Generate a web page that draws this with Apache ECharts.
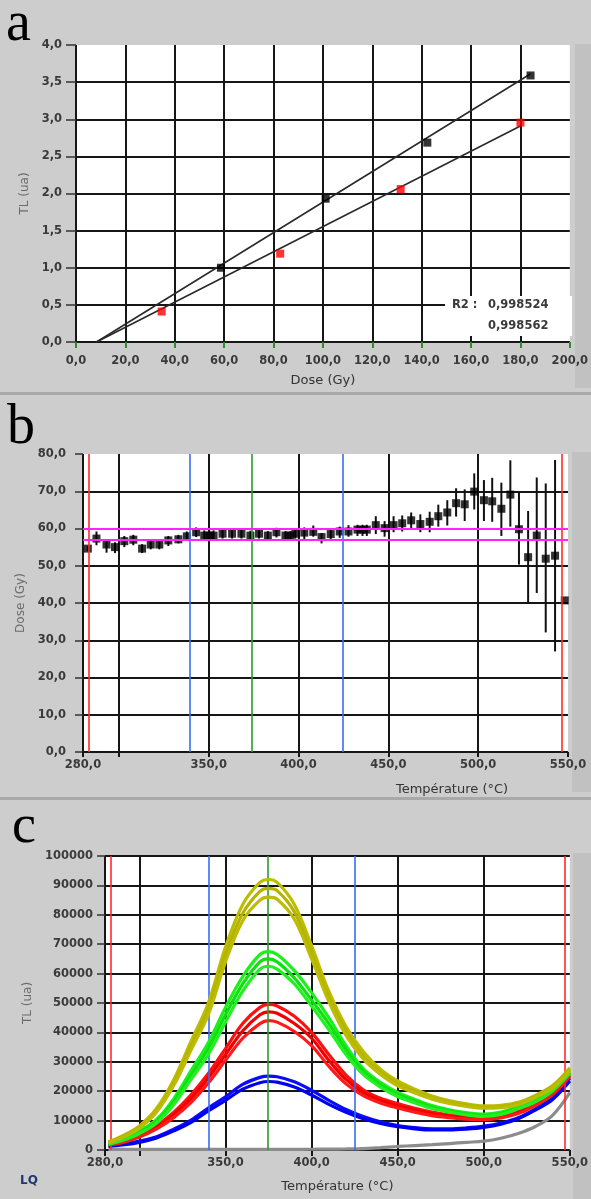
<!DOCTYPE html>
<html><head><meta charset="utf-8">
<script src="https://cdn.jsdelivr.net/npm/echarts@6/dist/echarts.min.js"></script>
<style>html,body{margin:0;padding:0;background:#cdcdcd}#chart{width:591px;height:1199px}</style>
</head><body><div id="chart"></div>
<script>
// ---------- Panel a : TL vs dose ----------
const aBlackDose = [58.7, 101.1, 142.3, 184.1];
const aBlackTL   = [1.00, 1.93, 2.685, 3.59];
const aRedDose   = [34.7, 82.7, 131.5, 180.0];
const aRedTL     = [0.41, 1.19, 2.06, 2.955];
const aFitBlackX = [8.3, 184.0];
const aFitBlackY = [0, 3.61];
const aFitRedX   = [8.3, 180.0];
const aFitRedY   = [0, 2.91];
const aR2        = ['0,998524', '0,998562'];

// ---------- Panel b : equivalent dose vs temperature ----------
const bTemp = [282.7,287.5,293.1,297.8,303.0,308.0,312.9,317.7,322.5,327.5,
               333.1,337.8,343.0,347.5,350.3,352.7,357.7,363.0,368.2,373.2,
               378.0,382.9,387.7,392.7,395.5,398.2,403.2,408.2,412.8,417.9,
               422.9,427.8,432.8,435.6,438.0,443.0,447.9,452.9,457.7,462.7,
               467.8,473.0,477.8,482.8,487.7,492.5,497.8,503.2,507.8,512.9,
               517.9,522.7,527.8,532.6,537.6,542.8,548.2];
const bDose = [54.6,57.3,55.7,55.0,56.6,57.0,54.6,55.7,55.7,56.8,
               57.1,57.9,59.0,58.1,58.1,58.1,58.6,58.6,58.6,58.1,
               58.6,58.1,59.0,58.1,58.1,58.6,58.9,59.1,57.7,58.5,
               59.2,59.2,59.7,59.7,59.7,60.9,60.1,60.9,61.4,62.2,
               61.2,61.8,63.3,64.3,66.8,66.5,69.9,67.6,67.3,65.3,
               69.1,59.8,52.3,58.1,51.9,52.7,40.7];
const bLow  = [54.0,55.5,53.5,53.4,55.0,55.5,53.4,54.4,54.4,55.3,
               56.0,56.8,57.7,56.8,56.8,56.8,57.3,57.3,57.3,56.8,
               57.3,56.9,57.6,56.9,56.9,57.3,57.1,57.8,56.0,57.2,
               57.5,57.8,58.0,58.0,58.0,58.5,57.8,59.0,59.2,60.0,
               59.0,59.0,60.5,60.8,63.2,62.0,65.1,62.0,61.8,58.0,
               60.5,50.3,39.8,42.7,32.1,27.0,40.7];
const bHigh = [55.3,59.2,57.0,56.3,58.0,58.3,55.8,57.0,57.0,58.0,
               58.3,59.2,60.3,59.5,59.5,59.5,59.8,59.8,59.8,59.4,
               59.8,59.3,60.2,59.3,59.3,59.8,60.3,60.8,58.8,59.8,
               60.5,60.9,61.0,61.0,61.0,63.3,62.0,63.3,63.5,64.3,
               63.8,64.5,66.4,67.6,70.8,70.5,74.8,73.0,73.6,72.3,
               78.3,69.9,64.7,73.7,72.1,78.4,40.7];
const bPlateau = [56.9, 60.0];
const bVLines  = [283.4, 339.5, 373.8, 424.5, 546.4];

// ---------- Panel c : glow curves ----------
const cTemp = [282,290,300,310,320,330,340,350,360,370,375,380,390,400,410,420,430,440,450,460,470,480,490,500,510,520,530,540,550];
const cOlive1 = [2800,4800,8200,14200,24000,37000,50000,69000,83500,91000,92000,91000,83500,69500,54000,42000,33500,27500,23500,20700,18400,16800,15700,15000,15200,16200,18600,21900,28000];
const cOlive2 = [2600,4500,7800,13500,23000,35500,48000,66500,80500,88000,89000,88200,81000,67000,52000,40500,32000,26500,22500,20000,17800,16300,15200,14600,14800,15800,18300,21500,27500];
const cOlive3 = [2400,4200,7400,12900,22000,34000,46000,64000,78000,85000,86000,85300,78500,65000,50500,39000,31000,25700,21800,19400,17300,15800,14800,14200,14400,15400,17900,21100,27000];
const cGreen1 = [2300,3800,6400,10400,17500,27000,36500,48500,59000,66500,67500,66500,61000,53500,45000,35500,27700,23000,19600,17200,15100,13700,12700,12200,12900,14800,17200,20900,27000];
const cGreen2 = [2100,3500,6000,9800,16500,25500,34500,46000,56500,64000,65000,64000,58500,51000,43000,34000,26700,22200,18900,16600,14600,13300,12300,11800,12500,14400,16800,20500,26500];
const cGreen3 = [1900,3200,5600,9200,15500,24000,32500,43500,54000,61500,62500,61500,56500,49000,41000,32500,25700,21400,18200,16000,14100,12900,11900,11400,12100,14000,16400,20100,26000];
const cRed1   = [2100,3100,5200,8400,12900,18800,26000,34500,43000,48500,49500,49000,45500,40000,32500,25500,20500,17600,15800,14200,12900,12000,11500,11200,11700,13200,15900,19700,26000];
const cRed2   = [1900,2800,4800,7800,12000,17500,24500,32500,40500,46000,47000,46500,43000,38000,30500,24000,19500,16800,15000,13500,12300,11500,11000,10800,11300,12800,15500,19300,25500];
const cRed3   = [1700,2500,4400,7200,11100,16200,22800,30500,38000,43000,44000,43500,40300,35500,28500,22500,18500,16000,14300,12900,11700,11000,10500,10300,10900,12400,15100,18900,25000];
const cBlue1  = [1400,1900,3000,4500,7100,10200,14300,18100,22300,24700,25100,24900,23200,20300,16900,13800,11400,9600,8300,7600,7200,7200,7500,8100,9200,11000,14000,17800,24500];
const cBlue2  = [1200,1700,2600,4100,6500,9400,13300,16900,20700,22900,23300,23100,21400,18700,15500,12800,10600,9000,7900,7200,6800,6800,7100,7700,8800,10600,13600,17200,23500];
const cGrey   = [200,200,200,200,200,200,200,200,200,200,200,200,200,250,300,350,450,800,1200,1500,1800,2200,2600,3000,4000,5600,8000,11800,19500];
const cVLines = [283.5, 340.0, 374.5, 425.0, 547.2];

// ---------- axis ticks ----------
const tTicks  = [280, 300, 350, 400, 450, 500, 550];
const tLabels = [280, 350, 400, 450, 500, 550];

// ---------- styling ----------
const vLineColors = ['#ff2a2a', '#3a6cf4', '#2e9a2e', '#3a6cf4', '#ff2a2a'];
const INK = '#161616';
const fmt1 = v => Number(v).toFixed(1).replace('.', ',');
const fmt0 = v => String(Math.round(v));
const tickFont = {fontFamily: 'DejaVu Sans', fontWeight: 'bold', fontSize: 11.5, color: '#3a3a3a'};
const gridLine = {show: true, lineStyle: {color: INK, width: 2}};
const zip = (xs, ys) => xs.map((x, i) => [x, ys[i]]);

const chart = echarts.init(document.getElementById('chart'), null, {renderer: 'canvas'});

function vMarks(list) {
  return list.map((t, i) => ({xAxis: t, lineStyle: {color: vLineColors[i], width: 1.6, type: 'solid'}}));
}

function curve(vals, color, z) {
  return {type: 'line', xAxisIndex: 2, yAxisIndex: 2, data: zip(cTemp, vals), smooth: 0.35,
          symbol: 'none', lineStyle: {color: color, width: 3.2}, z: z, silent: true};
}

const option = {
  backgroundColor: '#cdcdcd',
  animation: false,
  grid: [
    {left: 76, right: 19, top: 45, height: 297, show: true, backgroundColor: '#ffffff', borderWidth: 0},
    {left: 83, right: 23, top: 454, height: 298, show: true, backgroundColor: '#ffffff', borderWidth: 0},
    {left: 105, right: 21, top: 856, height: 294, show: true, backgroundColor: '#ffffff', borderWidth: 0}
  ],
  xAxis: [
    {gridIndex: 0, type: 'value', min: 0, max: 200, interval: 20,
     axisLine: {show: false},
     axisTick: {show: true, length: 6, lineStyle: {color: '#2e8b2e', width: 2}},
     axisLabel: Object.assign({margin: 13, formatter: fmt1}, tickFont),
     splitLine: Object.assign({showMaxLine: false}, gridLine),
     name: 'Dose (Gy)', nameLocation: 'middle', nameGap: 32,
     nameTextStyle: {fontFamily: 'DejaVu Sans', fontSize: 13, color: '#333'}},
    {gridIndex: 1, type: 'value', min: 280, max: 550,
     axisLine: {show: false},
     axisTick: {show: true, length: 5, customValues: tTicks, lineStyle: {color: INK, width: 2}},
     axisLabel: Object.assign({margin: 7, formatter: fmt1, customValues: tLabels}, tickFont),
     splitLine: Object.assign({showMaxLine: false}, gridLine)},
    {gridIndex: 2, type: 'value', min: 280, max: 550,
     axisLine: {show: false},
     axisTick: {show: true, length: 6, customValues: tTicks, lineStyle: {color: INK, width: 2}},
     axisLabel: Object.assign({margin: 7, formatter: fmt1, customValues: tLabels}, tickFont),
     splitLine: Object.assign({showMaxLine: false}, gridLine),
     name: 'Température (°C)', nameLocation: 'middle', nameGap: 30,
     nameTextStyle: {fontFamily: 'DejaVu Sans', fontSize: 13, color: '#333'}}
  ],
  yAxis: [
    {gridIndex: 0, type: 'value', min: 0, max: 4, interval: 0.5,
     axisLine: {show: false},
     axisTick: {show: true, length: 10, lineStyle: {color: '#333', width: 1.5}},
     axisLabel: Object.assign({margin: 14, formatter: fmt1}, tickFont),
     splitLine: Object.assign({showMaxLine: false}, gridLine),
     name: 'TL (ua)', nameLocation: 'middle', nameGap: 39,
     nameTextStyle: {fontFamily: 'DejaVu Sans', fontSize: 12, color: '#6b6b6b'}},
    {gridIndex: 1, type: 'value', min: 0, max: 80, interval: 10,
     axisLine: {show: false},
     axisTick: {show: true, length: 8, lineStyle: {color: '#333', width: 1.5}},
     axisLabel: Object.assign({margin: 17, formatter: fmt1}, tickFont),
     splitLine: Object.assign({showMaxLine: false}, gridLine),
     name: 'Dose (Gy)', nameLocation: 'middle', nameGap: 54,
     nameTextStyle: {fontFamily: 'DejaVu Sans', fontSize: 12, color: '#6b6b6b'}},
    {gridIndex: 2, type: 'value', min: 0, max: 100000, interval: 10000,
     axisLine: {show: false},
     axisTick: {show: true, length: 8, lineStyle: {color: '#333', width: 1.5}},
     axisLabel: Object.assign({margin: 12, formatter: fmt0}, tickFont),
     splitLine: gridLine,
     name: 'TL (ua)', nameLocation: 'middle', nameGap: 70,
     nameTextStyle: {fontFamily: 'DejaVu Sans', fontSize: 12, color: '#6b6b6b'}}
  ],
  series: [
    // panel a
    {type: 'line', xAxisIndex: 0, yAxisIndex: 0, data: zip(aFitBlackX, aFitBlackY), symbol: 'none',
     lineStyle: {color: '#2a2a2a', width: 1.6}, z: 2},
    {type: 'line', xAxisIndex: 0, yAxisIndex: 0, data: zip(aFitRedX, aFitRedY), symbol: 'none',
     lineStyle: {color: '#2a2a2a', width: 1.6}, z: 2},
    {type: 'scatter', xAxisIndex: 0, yAxisIndex: 0, data: zip(aBlackDose, aBlackTL), symbol: 'rect',
     symbolSize: 8, itemStyle: {color: '#000'}, z: 3},
    {type: 'scatter', xAxisIndex: 0, yAxisIndex: 0, data: zip(aRedDose, aRedTL), symbol: 'rect',
     symbolSize: 8, itemStyle: {color: '#ff0000'}, z: 3},
    // panel b
    {type: 'line', xAxisIndex: 1, yAxisIndex: 1, data: [], z: 1, silent: true,
     markLine: {silent: true, symbol: ['none', 'none'], label: {show: false}, animation: false,
       data: vMarks(bVLines).concat(bPlateau.map(v => ({yAxis: v, lineStyle: {color: '#ff22ff', width: 2, type: 'solid'}})))}},
    {type: 'custom', xAxisIndex: 1, yAxisIndex: 1, z: 2,
     data: bTemp.map((t, i) => [t, bLow[i], bHigh[i]]),
     renderItem: function (params, api) {
       const p1 = api.coord([api.value(0), api.value(1)]);
       const p2 = api.coord([api.value(0), api.value(2)]);
       return {type: 'line', shape: {x1: p1[0], y1: p1[1], x2: p2[0], y2: p2[1]},
               style: {stroke: '#111', lineWidth: 2}};
     }},
    {type: 'scatter', xAxisIndex: 1, yAxisIndex: 1, data: zip(bTemp, bDose), symbol: 'rect',
     symbolSize: 8, itemStyle: {color: '#000'}, z: 3},
    // panel c
    curve(cGrey, '#8c8c8c', 2),
    curve(cBlue1, '#0a0aff', 3), curve(cBlue2, '#0000f0', 3),
    curve(cRed1, '#ff1010', 4), curve(cRed2, '#f00000', 4), curve(cRed3, '#ff1a1a', 4),
    curve(cGreen1, '#1cf01c', 5), curve(cGreen2, '#10e010', 5), curve(cGreen3, '#22f022', 5),
    curve(cOlive1, '#bdbd00', 6), curve(cOlive2, '#b4b400', 6), curve(cOlive3, '#bcbc04', 6),
    {type: 'line', xAxisIndex: 2, yAxisIndex: 2, data: [], z: 8, silent: true,
     markLine: {silent: true, symbol: ['none', 'none'], label: {show: false}, animation: false,
       data: vMarks(cVLines)}}
  ],
  graphic: [
    {type: 'rect', z: -5, shape: {x: 0, y: 392, width: 591, height: 3}, style: {fill: '#a9a9a9'}},
    {type: 'rect', z: -5, shape: {x: 0, y: 797, width: 591, height: 3}, style: {fill: '#a9a9a9'}},
    {type: 'rect', z: -5, shape: {x: 575, y: 44, width: 16, height: 344}, style: {fill: '#c1c1c1'}},
    {type: 'rect', z: -5, shape: {x: 572, y: 452, width: 19, height: 340}, style: {fill: '#c1c1c1'}},
    {type: 'rect', z: -5, shape: {x: 573, y: 853, width: 18, height: 346}, style: {fill: '#c1c1c1'}},
    {type: 'text', x: 6, y: 25, style: {text: 'a', font: '56px "Liberation Serif"', fill: '#000', verticalAlign: 'middle'}},
    {type: 'text', x: 7, y: 428, style: {text: 'b', font: '56px "Liberation Serif"', fill: '#000', verticalAlign: 'middle'}},
    {type: 'text', x: 12, y: 828, style: {text: 'c', font: '54px "Liberation Serif"', fill: '#000', verticalAlign: 'middle'}},
    {type: 'rect', z: 20, shape: {x: 445, y: 296, width: 127, height: 40}, style: {fill: '#ffffff'}},
    {type: 'text', z: 21, x: 452, y: 305, style: {text: 'R2 :', font: 'bold 11.5px "DejaVu Sans"', fill: '#3a3a3a', verticalAlign: 'middle'}},
    {type: 'text', z: 21, x: 488, y: 305, style: {text: aR2[0], font: 'bold 11.5px "DejaVu Sans"', fill: '#3a3a3a', verticalAlign: 'middle'}},
    {type: 'text', z: 21, x: 488, y: 326, style: {text: aR2[1], font: 'bold 11.5px "DejaVu Sans"', fill: '#3a3a3a', verticalAlign: 'middle'}},
    {type: 'text', z: 21, x: 452, y: 790, style: {text: 'Température (°C)', font: '13px "DejaVu Sans"', fill: '#333', align: 'center', verticalAlign: 'middle'}},
    {type: 'text', z: 21, x: 20, y: 1181, style: {text: 'LQ', font: 'bold 12px "DejaVu Sans"', fill: '#1f3a70', verticalAlign: 'middle'}}
  ]
};
chart.setOption(option);
</script>
</body></html>
